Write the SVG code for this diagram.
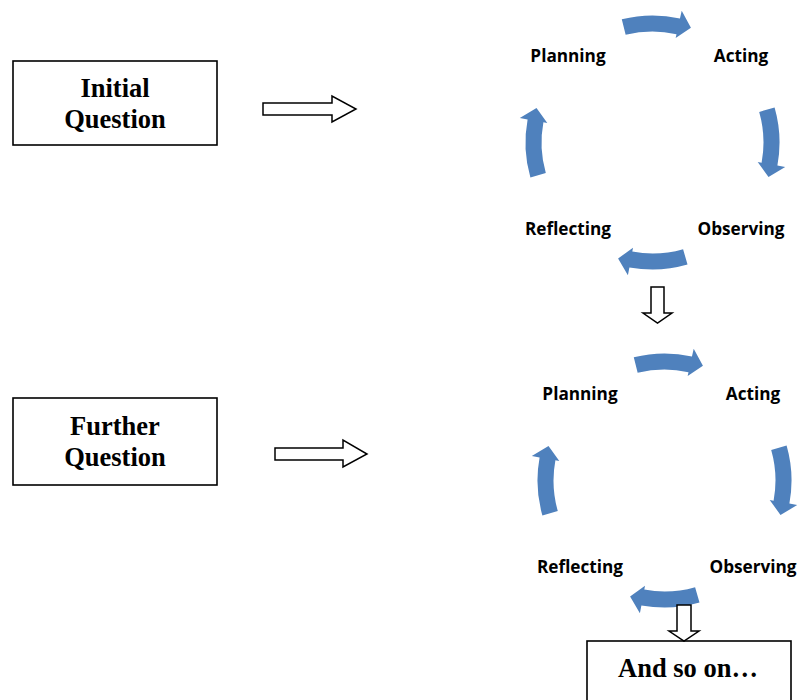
<svg xmlns="http://www.w3.org/2000/svg" width="798" height="700" viewBox="0 0 798 700">
<defs>
<style>
.box{fill:#fff;stroke:#000;stroke-width:1.6}
.serif{font-family:"Liberation Serif","Times New Roman",serif;font-weight:bold;font-size:26.5px;fill:#000;text-anchor:middle}
.lbl{font-family:"Open Sans","Noto Sans",sans-serif;font-weight:bold;font-size:17.2px;fill:#000;text-anchor:middle}
.hollow{fill:#fff;stroke:#000;stroke-width:1.5;stroke-linejoin:miter}
.blue{fill:#4F81BD}
</style>
<path id="carrow" d="M -35.0,-122.1 A 127 127 0 0 1 23.1,-124.9 L 24.6,-132.7 L 34.4,-116.0 L 19.5,-105.2 L 20.2,-109.1 A 111 111 0 0 0 -30.6,-106.7 Z"/>
</defs>
<rect width="798" height="700" fill="#fff"/>

<g id="initial-question">
<rect class="box" x="13" y="61" width="204" height="84"/>
<text class="serif" x="115" y="97">Initial</text>
<text class="serif" x="115" y="128">Question</text>
</g>

<g id="further-question">
<rect class="box" x="13" y="398" width="204" height="87"/>
<text class="serif" x="115" y="435">Further</text>
<text class="serif" x="115" y="466">Question</text>
</g>

<g id="cycle1">
<g id="cycle1-arrows" class="blue" transform="translate(652.5,142.5)">
<use href="#carrow" transform="rotate(2)"/>
<use href="#carrow" transform="rotate(90)"/>
<use href="#carrow" transform="rotate(180)"/>
<use href="#carrow" transform="rotate(270)"/>
</g>
<g id="c1-planning"><text class="lbl" x="568" y="62">Planning</text></g>
<g id="c1-acting"><text class="lbl" x="741" y="62">Acting</text></g>
<g id="c1-observing"><text class="lbl" x="741" y="235">Observing</text></g>
<g id="c1-reflecting"><text class="lbl" x="568" y="235">Reflecting</text></g>
</g>

<g id="cycle2">
<g id="cycle2-arrows" class="blue" transform="translate(664.5,480.5)">
<use href="#carrow" transform="rotate(2)"/>
<use href="#carrow" transform="rotate(90)"/>
<use href="#carrow" transform="rotate(180)"/>
<use href="#carrow" transform="rotate(270)"/>
</g>
<g id="c2-planning"><text class="lbl" x="580" y="400">Planning</text></g>
<g id="c2-acting"><text class="lbl" x="753" y="400">Acting</text></g>
<g id="c2-observing"><text class="lbl" x="753" y="573">Observing</text></g>
<g id="c2-reflecting"><text class="lbl" x="580" y="573">Reflecting</text></g>
</g>

<g id="and-so-on">
<rect class="box" x="587" y="641" width="204" height="84"/>
<text class="serif" x="688" y="677">And so on…</text>
</g>

<g id="connectors">
<polygon class="hollow" points="263,103 332,103 332,96 356,109 332,122 332,115 263,115"/>
<polygon class="hollow" points="275,448 343,448 343,440 367,454 343,467 343,460 275,460"/>
<polygon class="hollow" points="651,287 664,287 664,313 672,313 657.5,323 643,313 651,313"/>
<polygon class="hollow" points="677,605 691,605 691,631 699,631 684,641 669,631 677,631"/>
</g>
</svg>
